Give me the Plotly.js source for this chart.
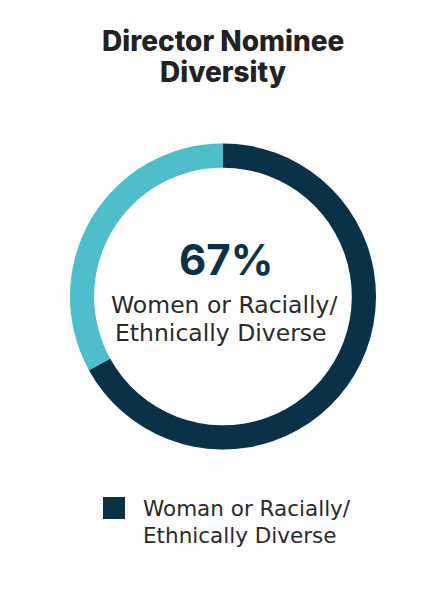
<!DOCTYPE html>
<html><head><meta charset="utf-8">
<script src="https://cdn.plot.ly/plotly-3.0.1.min.js"></script>
<style>html,body{margin:0;padding:0;background:#fff;}#chart{width:446px;height:590px;}</style>
</head><body><div id="chart"></div>
<script>
const titleLines = ["Director Nominee", "Diversity"];
const labels = ["Woman or Racially/<br>Ethnically Diverse", "Other"];
const values = [67, 33];
const colors = ["#0b3149", "#4fbecb"];
const centerValue = "67%";
const centerLabelLines = ["Women or Racially/", "Ethnically Diverse"];

const data = [{
  type: "pie",
  values: values,
  labels: labels,
  marker: {colors: colors, line: {width: 0}},
  hole: 0.842,
  sort: false,
  direction: "clockwise",
  rotation: 0,
  textinfo: "none",
  hoverinfo: "none",
  showlegend: false,
  domain: {x: [70/446, 376/446], y: [140.5/590, 446.5/590]}
}];

function ann(text, xpx, ypx, anchor, font) {
  return {text: text, x: xpx/446, y: 1 - ypx/590, xref: "paper", yref: "paper",
    xanchor: anchor, yanchor: "middle", showarrow: false, font: font};
}
const titleFont = {family: "Inter, 'Open Sans', sans-serif", size: 28, weight: 800, color: "#222"};
const bodyFont = {family: "'DejaVu Sans', sans-serif", size: 23.5, color: "#2a2a2a"};
const legFont = {family: "'DejaVu Sans', sans-serif", size: 21.5, color: "#2a2a2a"};
const legendLines = labels[0].split("<br>");

const layout = {
  width: 446, height: 590,
  margin: {l: 0, r: 0, t: 0, b: 0},
  paper_bgcolor: "#fff",
  showlegend: false,
  annotations: [
    ann(titleLines[0], 223, 41, "center", titleFont),
    ann(titleLines[1], 223, 72, "center", titleFont),
    ann("<b>" + centerValue + "</b>", 226, 259, "center",
        {family: "Inter, 'Open Sans', sans-serif", size: 42, weight: 800, color: colors[0]}),
    ann(centerLabelLines[0], 224, 305, "center", bodyFont),
    ann(centerLabelLines[1], 221, 333, "center", bodyFont),
    ann(legendLines[0], 141, 508, "left", legFont),
    ann(legendLines[1], 141, 535, "left", legFont)
  ],
  shapes: [
    {type: "rect", xref: "paper", yref: "paper",
     x0: 103/446, x1: 125/446, y0: 1 - 519/590, y1: 1 - 497/590,
     fillcolor: colors[0], line: {width: 0}}
  ]
};
Plotly.newPlot("chart", data, layout, {displayModeBar: false, staticPlot: true});
</script></body></html>
